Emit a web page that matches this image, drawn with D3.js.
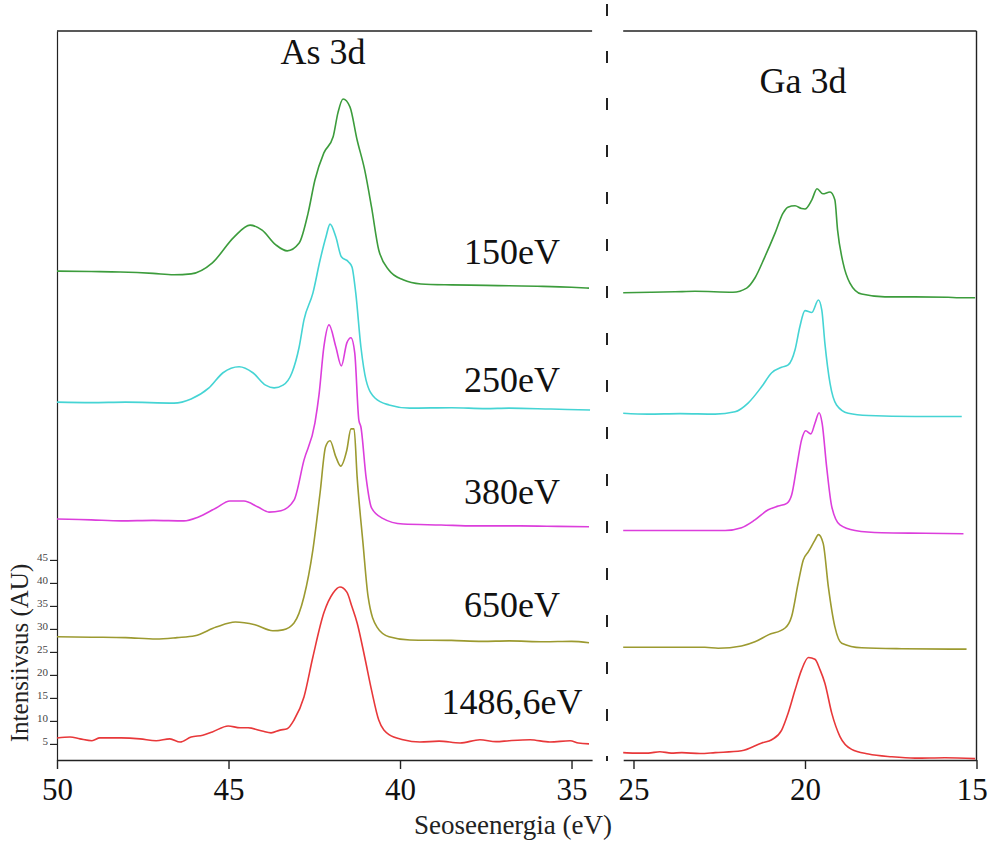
<!DOCTYPE html>
<html><head><meta charset="utf-8">
<script src="https://cdn.jsdelivr.net/npm/d3@7"></script>
<style>html,body{margin:0;padding:0;background:#fff}svg{display:block}</style>
</head><body>
<script>
// ---------------- data ----------------
const seriesNames = ["150eV", "250eV", "380eV", "650eV", "1486,6eV"];
const seriesColors = ["#3c9c3c", "#45d4d4", "#dc3edc", "#9c9a30", "#e8383a"];
const panelTitles = ["As 3d", "Ga 3d"];
const xTicksLeft = [50, 45, 40, 35];
const xTicksRight = [25, 20, 15];
const yTicks = [5, 10, 15, 20, 25, 30, 35, 40, 45];
const xLabel = "Seoseenergia (eV)";
const yLabel = "Intensiivsus (AU)";

// As 3d spectra: [binding energy (eV), intensity (AU, stacked)]
const as150 = [[50,107.8],[49,107.7],[48.16,107.6],[47.2,107.3],[46.6,107.0],[46.09,107.2],[45.47,109.6],[44.84,115.2],[44.37,117.8],[44.02,116.7],[43.62,113.5],[43.29,112.2],[42.94,113.9],[42.68,120.4],[42.48,127.6],[42.22,133.5],[41.95,137.0],[41.81,142.2],[41.66,145.2],[41.46,143.5],[41.25,136.3],[41.03,129.8],[40.83,121.7],[40.62,112.4],[40.32,108.0],[39.91,105.9],[39.39,105.0],[38.5,104.8],[37.5,104.7],[36.82,104.6],[36.0,104.5],[35.0,104.3],[34.49,104.1]];
const as250 = [[50,79.3],[49,79.2],[48,79.3],[46.59,79.1],[46.09,80.0],[45.57,82.4],[45.16,85.7],[44.69,87.0],[44.29,85.7],[43.92,83.0],[43.67,82.4],[43.41,83.0],[43.15,85.7],[42.94,91.3],[42.80,97.2],[42.54,103.0],[42.33,110.2],[42.16,115.2],[42.04,118.0],[41.87,115.2],[41.71,110.9],[41.50,109.8],[41.40,108.7],[41.29,103.0],[41.14,91.3],[40.99,84.1],[40.73,80.2],[40.32,78.7],[39.71,78.0],[38.5,78.1],[37.5,77.9],[36.82,78.0],[35.6,77.8],[34.46,77.6]];
const as380 = [[50,53.9],[49,53.7],[48.13,53.5],[47.2,53.6],[46.30,53.5],[45.89,54.3],[45.36,56.3],[44.96,57.8],[44.55,57.8],[44.14,56.5],[43.82,55.4],[43.47,55.7],[43.09,58.0],[42.80,66.7],[42.48,74.8],[42.36,81.0],[42.22,91.3],[42.07,96.1],[41.87,91.3],[41.71,87.2],[41.55,92.2],[41.43,93.3],[41.32,90.0],[41.20,75.4],[41.14,73.9],[40.99,63.0],[40.83,56.3],[40.52,54.1],[39.91,52.8],[38.8,52.6],[37.84,52.4],[36.5,52.4],[35.4,52.3],[34.49,52.2]];
const as650 = [[50,28.3],[49,28.2],[48,28.1],[47.11,27.8],[46.5,28.1],[45.98,28.5],[45.36,30.4],[44.80,31.5],[44.23,30.9],[43.71,29.6],[43.41,29.8],[43.09,31.3],[42.80,37.0],[42.54,47.2],[42.33,59.6],[42.17,69.6],[42.04,70.9],[41.87,67.4],[41.73,65.4],[41.55,68.9],[41.43,73.5],[41.34,73.5],[41.25,63.0],[41.08,48.7],[40.93,37.0],[40.67,30.4],[40.32,28.3],[39.71,27.6],[38.5,27.5],[37.6,27.3],[36.82,27.4],[35.8,27.2],[35.0,27.3],[34.49,27.0]];
const as1486 = [[50,6.3],[49.62,6.5],[49.33,6.1],[48.98,5.7],[48.75,6.3],[48.13,6.3],[47.58,6.1],[47.11,5.7],[46.71,6.1],[46.41,5.4],[46.09,6.5],[45.75,6.9],[45.47,7.6],[45.01,8.9],[44.66,8.5],[44.43,8.5],[44.02,7.8],[43.76,7.4],[43.50,8.0],[43.29,8.3],[43.09,10.2],[42.80,15.2],[42.54,23.9],[42.22,33.5],[41.95,37.8],[41.75,39.1],[41.55,38.0],[41.40,34.8],[41.25,31.3],[41.03,23.9],[40.83,16.7],[40.62,10.2],[40.32,7.0],[39.91,5.9],[39.42,5.4],[38.86,5.6],[38.25,5.2],[37.67,5.9],[37.2,5.5],[36.82,5.7],[36.21,5.9],[35.63,5.4],[35.04,5.7],[34.8,5.2],[34.49,5.0]];

// Ga 3d spectra
const ga150 = [[25.3,103.1],[24.5,103.2],[23.79,103.3],[23.21,103.4],[22.10,103.2],[21.70,104.1],[21.46,106.3],[21.17,110.9],[20.87,116.1],[20.64,120.4],[20.50,121.7],[20.29,122.0],[20.10,121.4],[20.00,121.3],[19.80,123.3],[19.65,125.7],[19.48,124.6],[19.27,125.0],[19.13,123.3],[19.05,116.7],[18.89,109.6],[18.69,105.2],[18.35,102.8],[17.67,102.2],[16.8,102.2],[15.83,102.1],[15.5,102.0],[15.04,102.0]];
const ga250 = [[25.3,76.9],[24.58,76.7],[23.64,76.8],[22.62,76.7],[22.04,77.2],[21.66,79.1],[21.26,82.7],[20.97,85.7],[20.68,86.9],[20.49,87.4],[20.29,90.7],[20.15,95.7],[20.00,99.2],[19.80,98.8],[19.61,101.5],[19.51,99.3],[19.42,92.1],[19.27,83.4],[19.08,78.7],[18.74,76.9],[18.15,76.4],[16.79,76.2],[15.43,76.2]];
const ga380 = [[25.3,51.4],[24.08,51.4],[22.33,51.4],[21.85,52.0],[21.46,53.7],[21.07,55.9],[20.78,56.7],[20.53,57.3],[20.39,59.1],[20.24,65.3],[20.10,71.1],[19.98,73.1],[19.83,72.4],[19.71,74.7],[19.59,77.0],[19.50,74.7],[19.37,65.3],[19.22,56.6],[18.98,52.6],[18.54,51.4],[17.76,50.9],[16.5,50.8],[15.38,50.7]];
const ga650 = [[25.3,26.0],[22.92,26.0],[22.53,25.8],[21.85,26.3],[21.46,27.2],[21.07,28.7],[20.58,30.2],[20.39,32.7],[20.20,39.9],[20.05,45.0],[19.90,46.8],[19.71,49.3],[19.61,50.5],[19.47,48.6],[19.32,39.2],[19.13,30.5],[18.93,26.9],[18.35,25.9],[17.18,25.7],[15.29,25.6]];
const ga1486 = [[25.3,3.1],[24.96,3.0],[24.57,3.0],[24.23,3.3],[23.9,3.0],[23.59,3.1],[23.06,2.9],[22.62,3.1],[21.85,3.5],[21.26,5.2],[20.97,5.9],[20.68,8.0],[20.49,11.7],[20.29,16.7],[20.10,21.1],[19.90,23.8],[19.71,23.4],[19.56,21.1],[19.42,18.2],[19.22,11.7],[18.98,6.6],[18.64,3.8],[18.15,2.8],[17.47,2.2],[16.79,1.9],[15.92,2.0],[15.04,1.8]];

const asSeries = [as150, as250, as380, as650, as1486];
const gaSeries = [ga150, ga250, ga380, ga650, ga1486];

// ---------------- layout ----------------
const W = 990, H = 844;
const svg = d3.select("body").append("svg").attr("width", W).attr("height", H);
const FONT = "'Liberation Serif', 'Times New Roman', serif";

const xL = d3.scaleLinear().domain([50, 34.4]).range([57, 592.1]);
const xR = d3.scaleLinear().domain([25.3, 15]).range([623.2, 976.5]);
const y = d3.scaleLinear().domain([1.5, 160]).range([760, 31]);

// frames
const frame = svg.append("g").attr("stroke", "#222").attr("stroke-width", 1.4);
frame.append("line").attr("x1", xL.range()[0]).attr("x2", xL.range()[1]).attr("y1", y.range()[1]).attr("y2", y.range()[1]);
frame.append("line").attr("x1", xR.range()[0]).attr("x2", xR.range()[1]).attr("y1", y.range()[1]).attr("y2", y.range()[1]);
frame.append("line").attr("x1", xR.range()[1]).attr("x2", xR.range()[1]).attr("y1", y.range()[1]).attr("y2", y.range()[0]);

// break marker
svg.append("line").attr("x1", 607).attr("x2", 607).attr("y1", 4).attr("y2", 761)
  .attr("stroke", "#222").attr("stroke-width", 2).attr("stroke-dasharray", "12,35");

// x axes
function xAxis(scale, major, minor) {
  const g = svg.append("g").attr("transform", `translate(0,${y.range()[0]})`);
  g.call(d3.axisBottom(scale).tickValues(minor).tickSize(5).tickSizeOuter(0).tickFormat(""));
  g.call(d3.axisBottom(scale).tickValues(major).tickSize(9).tickSizeOuter(0).tickPadding(9).tickFormat(d3.format("d")));
  g.attr("font-family", null).style("font-family", FONT);
  g.selectAll("path,line").attr("stroke", "#222").attr("stroke-width", 1.4);
  g.selectAll("text").style("font-family", FONT).attr("font-size", 31).attr("fill", "#111");
  return g;
}
xAxis(xL, xTicksLeft, d3.range(35, 51));
const gxR = xAxis(xR, xTicksRight, d3.range(15, 26));
// keep the last label inside the page edge
gxR.selectAll(".tick text").filter(d => d === 15).attr("dx", "-0.15em");

// y axis
const gy = svg.append("g").attr("transform", `translate(${xL.range()[0]},0)`);
gy.call(d3.axisLeft(y).tickValues(d3.range(2, 48)).tickSize(4).tickSizeOuter(0).tickFormat(""));
gy.call(d3.axisLeft(y).tickValues(yTicks).tickSize(7).tickSizeOuter(0).tickPadding(2).tickFormat(d3.format("d")));
gy.attr("font-family", null).style("font-family", FONT);
gy.selectAll("path,line").attr("stroke", "#222").attr("stroke-width", 1.2);
gy.selectAll("text").style("font-family", FONT).attr("font-size", 11).attr("fill", "#444").attr("dy", "0.05em");

// axis titles
svg.append("text").attr("x", 513).attr("y", 834).attr("text-anchor", "middle")
  .style("font-family", FONT).attr("font-size", 27).attr("fill", "#222").text(xLabel);
svg.append("text").attr("transform", "translate(28,653) rotate(-90)").attr("text-anchor", "middle")
  .style("font-family", FONT).attr("font-size", 25).attr("fill", "#222").text(yLabel);

// panel titles
svg.append("text").attr("x", 323).attr("y", 64).attr("text-anchor", "middle")
  .style("font-family", FONT).attr("font-size", 36).attr("fill", "#111").text(panelTitles[0]);
svg.append("text").attr("x", 803).attr("y", 93).attr("text-anchor", "middle")
  .style("font-family", FONT).attr("font-size", 36).attr("fill", "#111").text(panelTitles[1]);

// curves
const lineL = d3.line().x(d => xL(d[0])).y(d => y(d[1])).curve(d3.curveMonotoneX);
const lineR = d3.line().x(d => xR(d[0])).y(d => y(d[1])).curve(d3.curveMonotoneX);
asSeries.forEach((s, i) => svg.append("path").datum(s).attr("d", lineL)
  .attr("fill", "none").attr("stroke", seriesColors[i]).attr("stroke-width", 1.6).attr("stroke-linejoin", "round"));
gaSeries.forEach((s, i) => svg.append("path").datum(s).attr("d", lineR)
  .attr("fill", "none").attr("stroke", seriesColors[i]).attr("stroke-width", 1.6).attr("stroke-linejoin", "round"));

// energy labels (placed above the tail of each As 3d curve)
const labelLift = [5.2, 3.9, 5.0, 5.6, 6.5];
asSeries.forEach((s, i) => {
  const tail = s[s.length - 1][1];
  svg.append("text").attr("x", 512).attr("y", y(tail + labelLift[i]))
    .attr("text-anchor", "middle").style("font-family", FONT).attr("font-size", 36)
    .attr("fill", "#111").text(seriesNames[i]);
});
</script>
</body></html>
